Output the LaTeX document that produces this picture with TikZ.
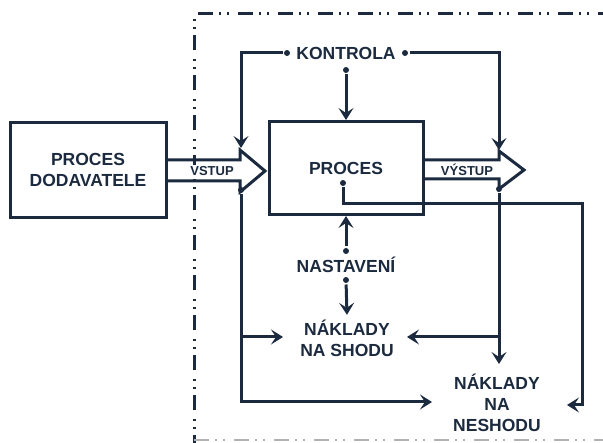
\documentclass[tikz,border=0pt]{standalone}
\usepackage{fontspec}
\setmainfont{Liberation Sans}
\usetikzlibrary{positioning,arrows.meta}
\definecolor{ink}{HTML}{1B2A3E}

\begin{document}
\begin{tikzpicture}[x=1pt,y=-1pt,color=ink,line width=3pt,
	every node/.style={font=\bfseries\fontsize{17.5}{21}\selectfont, align=center},
	box/.style={draw, rectangle, inner sep=0pt},
	lbl/.style={font=\bfseries\fontsize{13}{15}\selectfont, fill=white, inner sep=1pt},
	arr/.style={-{Stealth[length=12pt,width=15pt,inset=5pt]}},
	dot/.style={circle, fill=ink, inner sep=0pt, minimum size=6pt}]
	\useasboundingbox (0,0) rectangle (603,443);
	% hranice systemu
	\draw[line width=3pt, dash pattern=on 15pt off 6pt on 2pt off 6pt on 2pt off 9pt] (194,450) -- (194,14) -- (620,14);
	\draw[gray!60, line width=2.5pt, dash pattern=on 15pt off 6pt on 2pt off 6pt on 2pt off 9pt] (194,440) -- (620,440);

	\node[box, minimum width=156, minimum height=95] (dod) at (88,170) {PROCES\\DODAVATELE};
	\node[box, minimum width=154, minimum height=93] (proc) at (346,168) {PROCES};
	\node (kon) at (346,53) {KONTROLA};
	\node (nast) at (346,265) {NASTAVENÍ};
	\node (shoda) at (347,338) {NÁKLADY\\NA SHODU};
	\node (neshoda) at (497,403) {NÁKLADY\\NA\\NESHODU};

	% sipky vstup a vystup
	\draw[line join=miter] (dod.east |- 0,160) -- (240,160) -- (240,150) -- (265,171) -- (240,192) -- (240,181) -- (dod.east |- 0,181);
	\draw[line join=miter] (proc.east |- 0,160) -- (499,160) -- (499,151) -- (524,170) -- (499,189) -- (499,179) -- (proc.east |- 0,179);
	\node[lbl] (vst) at (212,171) {VSTUP};
	\node[lbl] (vyst) at (467,170) {VÝSTUP};

	\node[dot] (kl) at (287,53) {};
	\node[dot] (kr) at (405,53) {};
	\node[dot] (kc) at (346,70) {};
	\node[dot] (n1) at (346,251) {};
	\node[dot] (n2) at (346,280) {};
	\node[dot] (vb) at (241,190) {};
	\node[dot] (wb) at (499,189) {};
	\node[dot] (pd) at (343,183) {};
	\coordinate (vt) at (241,148);
	\coordinate (wt) at (499,150);
	\coordinate (s1) at (241,337);
	\coordinate (s2) at (499,337);
	\coordinate (e1) at (432,402);
	\coordinate (e2) at (499,364);
	\coordinate (e3) at (567,405);

	\draw[arr] (kl) -| (vt);
	\draw[arr] (kr) -| (wt);
	\draw[arr] (kc) -- (proc.north);
	\draw[arr] (n1) -- (proc.south);
	\draw[arr] (n2) -- (shoda.north);
	\draw[arr] (vb) |- (e1);
	\draw[arr] (s1) -- (283,337);
	\draw[arr] (wb) -- (e2);
	\draw[arr] (s2) -- (407,337);
	\draw[arr] (pd) |- (582,204) |- (e3);
\end{tikzpicture}
\end{document}
